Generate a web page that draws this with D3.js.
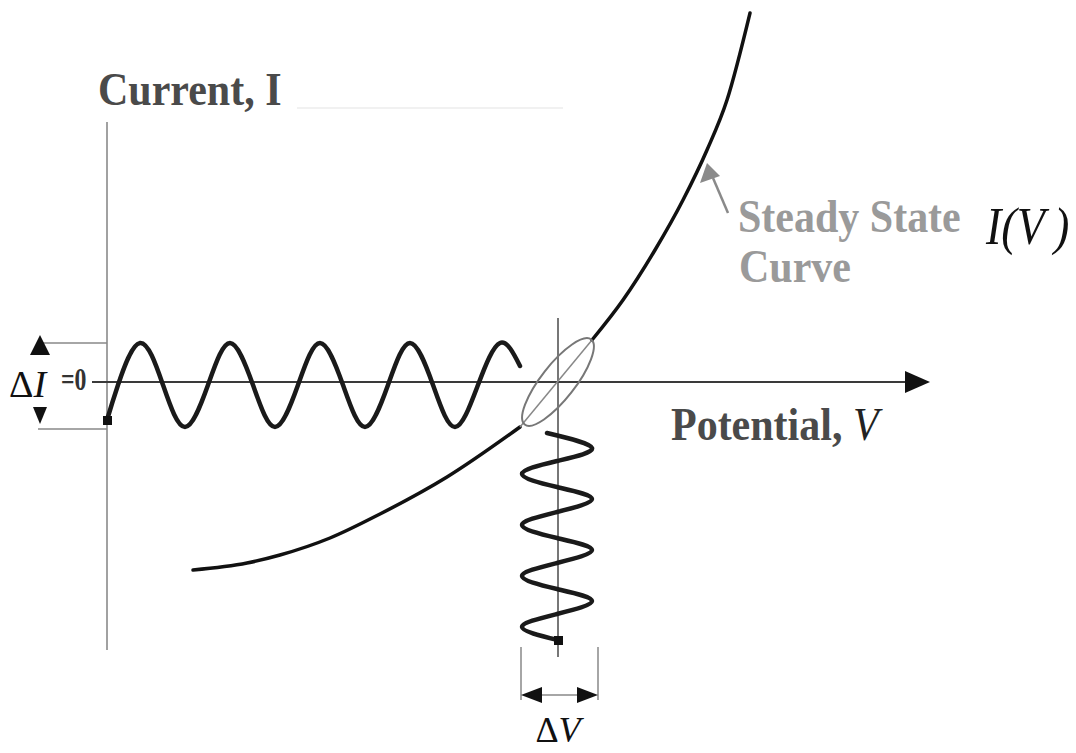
<!DOCTYPE html>
<html>
<head>
<meta charset="utf-8">
<script src="https://cdn.jsdelivr.net/npm/d3@7"></script>
<style>
  html, body { margin: 0; padding: 0; background: #fff; }
  svg { display: block; }
  text { font-family: "Liberation Serif", "Times New Roman", serif; }
</style>
</head>
<body>
<svg id="chart" width="1076" height="753"></svg>
<script>
// steady state I(V) curve, split where the ellipse sits (V, I)
var curveLower = [[8.6, -18.8], [14.0, -18.1], [17.3, -17.3], [22.3, -15.6], [27.3, -13.2],
  [34.0, -9.5], [41.3, -4.5]];
var curveUpper = [[48.5, 4.2], [51.6, 8.2], [54.8, 13.2], [57.6, 18.2], [60.0, 23.2],
  [62.0, 28.2], [64.3, 36.9]];
var operatingPoint = [45.1, 0];

// current perturbation drawn along the V axis (V, I)
var currentWave = [[0.0, -3.8], [1.1, -0.3], [3.3, 3.9], [5.6, -0.3], [7.8, -4.5], [10.1, -0.3],
  [12.3, 3.9], [14.6, -0.3], [16.8, -4.5], [19.1, -0.3], [21.3, 3.9], [23.6, -0.3],
  [25.8, -4.5], [28.1, -0.3], [30.3, 3.9], [32.6, -0.3], [34.8, -4.5], [37.1, -0.3],
  [39.3, 3.9], [41.3, 1.6]];

// potential perturbation hanging below the operating point (V, I)
var potentialWave = [[44.0, -5.1], [48.5, -6.6], [45.0, -7.9], [41.5, -9.2], [45.0, -10.5],
  [48.5, -11.7], [45.0, -13.0], [41.5, -14.3], [45.0, -15.6], [48.5, -16.8], [45.0, -18.1],
  [41.5, -19.4], [45.0, -20.7], [48.5, -21.9], [45.0, -23.2], [41.5, -24.5], [45.1, -25.8]];

var svg = d3.select("#chart");

var x = d3.scaleLinear().domain([0, 82.3]).range([107, 930]);
var y = d3.scaleLinear().domain([-27, 26]).range([652, 122]);

var line = d3.line().x(d => x(d[0])).y(d => y(d[1]));

// faint rule next to the I label
svg.append("line")
    .attr("x1", 297).attr("x2", 563).attr("y1", 108).attr("y2", 108)
    .attr("stroke", "#ececec").attr("stroke-width", 1.5);

// current axis
svg.append("line")
    .attr("x1", x(0)).attr("x2", x(0))
    .attr("y1", y(26)).attr("y2", y(-26.8))
    .attr("stroke", "#8a8a8a").attr("stroke-width", 1.6);

// potential axis with arrow
svg.append("line")
    .attr("x1", x(-1.5)).attr("x2", x(80))
    .attr("y1", y(0)).attr("y2", y(0))
    .attr("stroke", "#3a3a3a").attr("stroke-width", 2);
svg.append("path")
    .attr("d", `M${x(82.3)},${y(0)} L${x(79.8)},${y(0) - 11} L${x(79.8)},${y(0) + 11} Z`)
    .attr("fill", "#111");

// delta I bracket
var iTop = y(3.9), iBot = y(-4.7), ax = 40;
svg.append("line").attr("x1", 43).attr("x2", x(0)).attr("y1", iTop).attr("y2", iTop)
    .attr("stroke", "#888").attr("stroke-width", 1.5);
svg.append("line").attr("x1", 38).attr("x2", x(0)).attr("y1", iBot).attr("y2", iBot)
    .attr("stroke", "#888").attr("stroke-width", 1.5);
svg.append("path")
    .attr("d", `M${ax},${iTop - 8} L${ax - 10},${iTop + 12} L${ax + 10},${iTop + 12} Z`)
    .attr("fill", "#111");
svg.append("path")
    .attr("d", `M${ax},${iBot - 5} L${ax - 7},${iBot - 22} L${ax + 7},${iBot - 22} Z`)
    .attr("fill", "#111");

var dI = svg.append("text").attr("x", 9).attr("y", 397).attr("font-size", 38).attr("fill", "#111");
dI.append("tspan").text("Δ");
dI.append("tspan").attr("font-style", "italic").text("I");
svg.append("text").attr("transform", "translate(61,390) scale(0.85,1.15)")
    .attr("font-size", 28).attr("font-weight", "bold").attr("fill", "#333").text("=0");

// vertical guide through operating point
svg.append("line")
    .attr("x1", x(operatingPoint[0])).attr("x2", x(operatingPoint[0]))
    .attr("y1", y(6.4)).attr("y2", y(-27.5))
    .attr("stroke", "#555").attr("stroke-width", 1.6);

// steady state curve
[curveLower, curveUpper].forEach(function(seg) {
  svg.append("path")
      .attr("d", line.curve(d3.curveMonotoneX)(seg))
      .attr("fill", "none").attr("stroke", "#111")
      .attr("stroke-width", 3.5).attr("stroke-linecap", "round");
});
svg.append("path")
    .attr("d", d3.line().x(d => x(d[0])).y(d => y(d[1]))([curveLower[curveLower.length - 1], curveUpper[0]]))
    .attr("stroke", "#888").attr("stroke-width", 1.5);

// small-signal ellipse
svg.append("ellipse")
    .attr("cx", 0).attr("cy", 0).attr("rx", 54).attr("ry", 17)
    .attr("transform", `translate(${x(operatingPoint[0])},${y(operatingPoint[1])}) rotate(-52)`)
    .attr("fill", "none").attr("stroke", "#777").attr("stroke-width", 2);

// perturbation waves
svg.append("path")
    .attr("d", d3.line().x(d => x(d[0])).y(d => y(d[1])).curve(d3.curveNatural)(currentWave))
    .attr("fill", "none").attr("stroke", "#1a1a1a")
    .attr("stroke-width", 4.5).attr("stroke-linecap", "round");
svg.append("path")
    .attr("d", d3.line().x(d => x(d[0])).y(d => y(d[1])).curve(d3.curveNatural)(potentialWave))
    .attr("fill", "none").attr("stroke", "#1a1a1a")
    .attr("stroke-width", 4.5).attr("stroke-linecap", "round");

// start markers
[currentWave[0], potentialWave[potentialWave.length - 1]].forEach(function(d) {
  svg.append("rect")
      .attr("x", x(d[0]) - 4).attr("y", y(d[1]) - 4)
      .attr("width", 9).attr("height", 9).attr("fill", "#111");
});

// delta V bracket
var vL = x(41.4), vR = x(49.1), vy = 695;
svg.append("line").attr("x1", vL).attr("x2", vL).attr("y1", 647).attr("y2", 700)
    .attr("stroke", "#888").attr("stroke-width", 1.5);
svg.append("line").attr("x1", vR).attr("x2", vR).attr("y1", 647).attr("y2", 700)
    .attr("stroke", "#888").attr("stroke-width", 1.5);
svg.append("line").attr("x1", vL + 15).attr("x2", vR - 15).attr("y1", vy).attr("y2", vy)
    .attr("stroke", "#888").attr("stroke-width", 1.5);
svg.append("path")
    .attr("d", `M${vL},${vy} L${vL + 21},${vy - 8} L${vL + 21},${vy + 8} Z`).attr("fill", "#111");
svg.append("path")
    .attr("d", `M${vR},${vy} L${vR - 21},${vy - 8} L${vR - 21},${vy + 8} Z`).attr("fill", "#111");

var dV = svg.append("text").attr("x", x(operatingPoint[0])).attr("y", 742)
    .attr("text-anchor", "middle").attr("font-size", 36).attr("fill", "#111");
dV.append("tspan").text("Δ");
dV.append("tspan").attr("font-style", "italic").text("V");

// labels (source art is slightly stretched vertically)
function label(px, py, size, fill, parts) {
  var t = svg.append("text")
      .attr("transform", `translate(${px},${py}) scale(1,1.13)`)
      .attr("font-size", size).attr("fill", fill);
  parts.forEach(function(p) {
    t.append("tspan")
        .attr("font-weight", p.bold ? "bold" : "normal")
        .attr("font-style", p.italic ? "italic" : "normal")
        .attr("fill", p.fill || null)
        .text(p.text);
  });
  return t;
}

label(98, 105, 42, "#4a4a4a", [{ text: "Current, I", bold: true }]);
label(671, 440, 42, "#4a4a4a", [
  { text: "Potential, ", bold: true },
  { text: "V", italic: true, fill: "#222" }
]);
label(738, 232, 42, "#9a9a9a", [{ text: "Steady State", bold: true }]);
label(739, 282, 42, "#9a9a9a", [{ text: "Curve", bold: true }]);
label(986, 244, 46, "#111", [{ text: "I(V\u2009)", italic: true }]);

// pointer to the steady state curve
svg.append("line")
    .attr("x1", 728).attr("y1", 213).attr("x2", 713).attr("y2", 178)
    .attr("stroke", "#8a8a8a").attr("stroke-width", 2.5);
svg.append("path")
    .attr("d", "M707,163 L700,183 L720,176 Z")
    .attr("fill", "#8a8a8a");
</script>
</body>
</html>
